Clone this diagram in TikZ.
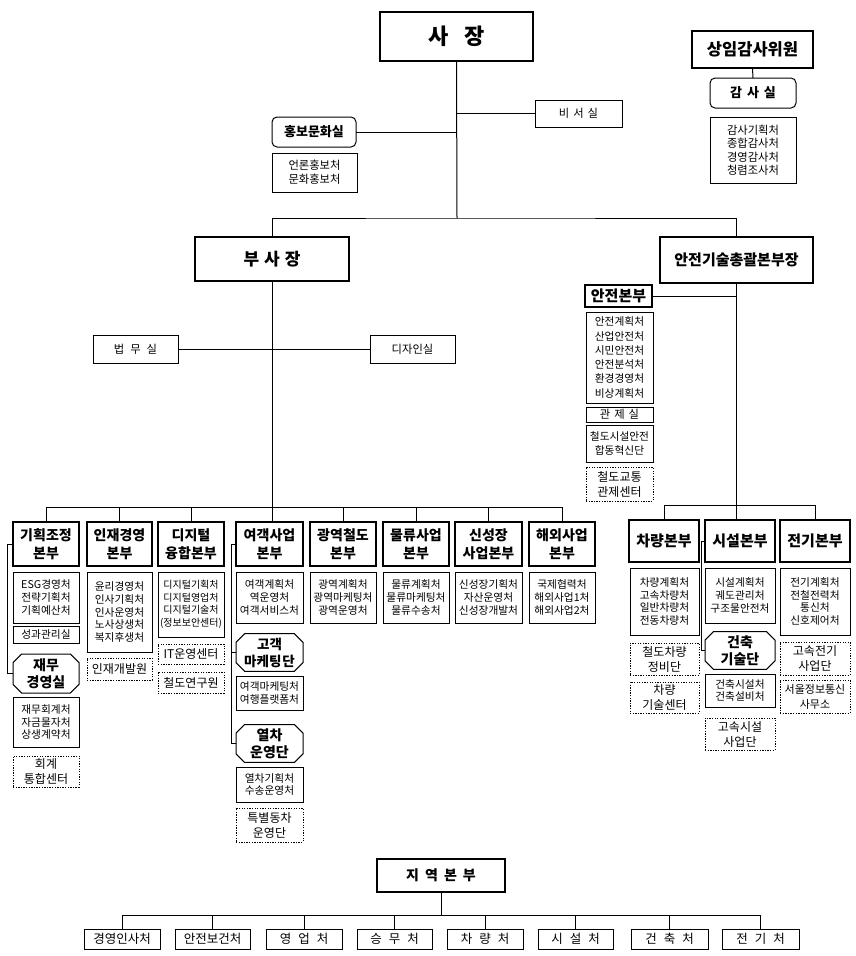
\documentclass[tikz,border=0pt]{standalone}
\usepackage{fontspec}
\setmainfont{Noto Sans CJK KR}
\usetikzlibrary{shapes.misc}
\newcommand\fs[2]{\fontsize{#1pt}{#2pt}\selectfont}
\newcommand\gp[1]{\hspace{#1pt}}
\newcommand\bx[7]{\node[#2, minimum width={(#5-#3)*1pt}, minimum height={(#6-#4)*1pt}] (#1) at ({(#3+#5)/2},{(#4+#6)/2}) {#7};}
\tikzset{
  base/.style={draw=black, inner sep=0.3pt, outer sep=0pt, align=center, text=black},
  topbox/.style={base, line width=2.2pt, font=\bfseries\fs{16}{20}},
  head/.style={base, line width=1.1pt, font=\bfseries\fs{14}{18}},
  lst/.style={base, line width=0.8pt, font=\fs{10.7}{12.6}},
  dsh/.style={base, line width=0.8pt, dash pattern=on 1.3pt off 1.3pt, font=\fs{12}{15}},
  rnd/.style={base, line width=1pt, rounded corners=5pt, font=\bfseries\fs{13}{16}},
  chm/.style={base, chamfered rectangle, chamfered rectangle xsep=5pt, line width=1pt, font=\bfseries\fs{14}{17}},
  single/.style={base, line width=0.8pt, font=\fs{11.3}{14}},
  ln/.style={draw=black, line width=1pt},
}
\begin{document}
\begin{tikzpicture}[x=1pt,y=-1pt]
\fill[white] (0,0) rectangle (855,956);
\useasboundingbox (0,0) rectangle (855,956);

% ---- top level
\bx{sajang}{topbox, font=\bfseries\fs{22}{26}}{380}{12}{533}{61}{사\gp{16}장}
\bx{sangim}{topbox, font=\bfseries\fs{16.5}{20}}{692}{31}{813}{68}{상임감사위원}
\bx{gamsa}{rnd}{710}{78}{796}{108}{감\gp{5}사\gp{5}실}
\bx{gamsal}{single, font=\fs{11.3}{13.5}}{710}{117}{796}{183}{감사기획처\\종합감사처\\경영감사처\\청렴조사처}
\bx{biseo}{single}{535}{100}{622}{127}{비\gp{4}서\gp{4}실}
\bx{hongbo}{rnd}{272}{117}{356}{147}{홍보문화실}
\bx{hongbol}{single, font=\fs{11.3}{14}}{272}{153}{357}{192}{언론홍보처\\문화홍보처}
\bx{busajang}{topbox, font=\bfseries\fs{17}{20}}{195}{237}{349}{281}{부\gp{5}사\gp{5}장}
\bx{anjeongisul}{topbox, font=\bfseries\fs{15}{18}}{660}{237}{813}{283}{안전기술총괄본부장}
\bx{beopmu}{single}{93}{335}{178}{363}{법\gp{6}무\gp{6}실}
\bx{design}{single}{370}{335}{455}{363}{디자인실}

% ---- 부사장 산하 본부
\bx{k1}{head}{13}{522}{79}{566}{기획조정\\본부}
\bx{k2}{head}{87}{522}{152}{566}{인재경영\\본부}
\bx{k3}{head}{158}{522}{224}{566}{디지털\\융합본부}
\bx{k4}{head}{236}{522}{303}{566}{여객사업\\본부}
\bx{k5}{head}{310}{522}{376}{566}{광역철도\\본부}
\bx{k6}{head}{383}{522}{449}{566}{물류사업\\본부}
\bx{k7}{head}{455}{522}{522}{566}{신성장\\사업본부}
\bx{k8}{head}{529}{522}{595}{566}{해외사업\\본부}

\bx{l1}{lst}{13}{572}{79}{623}{ESG경영처\\전략기획처\\기획예산처}
\bx{s1}{lst}{13}{626}{79}{643}{성과관리실}
\bx{jaemu}{chm}{13}{654}{79}{693}{재무\\경영실}
\bx{l1b}{lst}{13}{697}{79}{747}{재무회계처\\자금물자처\\상생계약처}
\bx{d1}{dsh}{13}{756}{79}{787}{회계\\통합센터}

\bx{l2}{lst}{87}{572}{152}{652}{윤리경영처\\인사기획처\\인사운영처\\노사상생처\\복지후생처}
\bx{d2}{dsh}{87}{658}{152}{680}{인재개발원}

\bx{l3}{lst, font=\fs{10}{12.6}}{158}{572}{224}{637}{디지털기획처\\디지털영업처\\디지털기술처\\(정보보안센터)}
\bx{d3a}{dsh}{158}{644}{224}{664}{IT운영센터}
\bx{d3b}{dsh}{158}{672}{224}{693}{철도연구원}

\bx{l4}{lst}{236}{572}{303}{623}{여객계획처\\역운영처\\여객서비스처}
\bx{gogaek}{chm, font=\bfseries\fs{13.5}{17}}{236}{635}{303}{670}{고객\\마케팅\gp{1}단}
\bx{l4b}{lst}{236}{676}{303}{710}{여객마케팅처\\여행플랫폼처}
\bx{yeolcha}{chm}{236}{725}{303}{762}{열차\\운영단}
\bx{l4c}{lst}{236}{767}{303}{802}{열차기획처\\수송운영처}
\bx{d4}{dsh}{236}{808}{303}{842}{특별동차\\운영단}

\bx{l5}{lst}{310}{572}{376}{623}{광역계획처\\광역마케팅처\\광역운영처}
\bx{l6}{lst}{383}{572}{449}{623}{물류계획처\\물류마케팅처\\물류수송처}
\bx{l7}{lst}{455}{572}{522}{623}{신성장기획처\\자산운영처\\신성장개발처}
\bx{l8}{lst}{529}{572}{595}{623}{국제협력처\\해외사업1처\\해외사업2처}

% ---- 안전기술총괄본부장 산하
\bx{anjeon}{head, font=\bfseries\fs{15}{18}}{585}{285}{652}{307}{안전본부}
\bx{al}{lst, font=\fs{10.7}{14.3}}{586}{312}{653}{403}{안전계획처\\산업안전처\\시민안전처\\안전분석처\\환경경영처\\비상계획처}
\bx{gwanje}{lst, font=\fs{11.3}{13}}{586}{407}{653}{422}{관\gp{4}제\gp{4}실}
\bx{hapdong}{lst, font=\fs{10.7}{13.5}}{586}{425}{653}{462}{철도시설안전\\합동혁신단}
\bx{d5}{dsh}{586}{467}{653}{501}{철도교통\\관제센터}

\bx{r1}{head, font=\bfseries\fs{15}{18}}{629}{520}{699}{562}{차량본부}
\bx{r2}{head, font=\bfseries\fs{15}{18}}{705}{520}{775}{562}{시설본부}
\bx{r3}{head, font=\bfseries\fs{15}{18}}{780}{520}{850}{562}{전기본부}
\bx{rl1}{lst}{630}{568}{699}{635}{차량계획처\\고속차량처\\일반차량처\\전동차량처}
\bx{rl2}{lst}{705}{568}{775}{623}{시설계획처\\궤도관리처\\구조물안전처}
\bx{rl3}{lst}{780}{568}{850}{635}{전기계획처\\전철전력처\\통신처\\신호제어처}
\bx{d6}{dsh}{630}{643}{699}{675}{철도차량\\정비단}
\bx{d7}{dsh}{630}{682}{699}{713}{차량\\기술센터}
\bx{geonchuk}{chm}{705}{632}{775}{669}{건축\\기술단}
\bx{rl2b}{lst}{705}{674}{775}{707}{건축시설처\\건축설비처}
\bx{d8}{dsh}{705}{718}{775}{750}{고속시설\\사업단}
\bx{d9}{dsh}{780}{642}{850}{675}{고속전기\\사업단}
\bx{d10}{dsh, font=\fs{11}{15}}{780}{680}{850}{713}{서울정보통신\\사무소}

% ---- 지역본부
\bx{jiyeok}{topbox, line width=2pt, font=\bfseries\fs{14}{17}}{377}{859}{505}{892}{지\gp{6}역\gp{6}본\gp{6}부}
\bx{b1}{single, font=\fs{12.5}{15}}{84}{929}{160}{949}{경영인사처}
\bx{b2}{single, font=\fs{12.5}{15}}{175}{929}{250}{949}{안전보건처}
\bx{b3}{single, font=\fs{12.5}{15}}{266}{929}{342}{949}{영\gp{7}업\gp{7}처}
\bx{b4}{single, font=\fs{12.5}{15}}{357}{929}{432}{949}{승\gp{7}무\gp{7}처}
\bx{b5}{single, font=\fs{12.5}{15}}{447}{929}{523}{949}{차\gp{7}량\gp{7}처}
\bx{b6}{single, font=\fs{12.5}{15}}{538}{929}{613}{949}{시\gp{7}설\gp{7}처}
\bx{b7}{single, font=\fs{12.5}{15}}{631}{929}{708}{949}{건\gp{7}축\gp{7}처}
\bx{b8}{single, font=\fs{12.5}{15}}{722}{929}{799}{949}{전\gp{7}기\gp{7}처}

% ---- connectors
\coordinate (t1) at (457,218);
\coordinate (t2) at (0,507);
\coordinate (t3) at (0,505);
\coordinate (t4) at (0,915);

\draw[ln] (sajang.south) -- (t1);
\draw[ln] (busajang.north) |- (t1) -| (anjeongisul.north);
\draw[ln] (biseo.west) -- (biseo.west -| t1);
\draw[ln] (hongbo.east) -- (hongbo.east -| t1);
\draw[ln] (sangim.south) -- (gamsa.north);

\draw[ln] (busajang.south) -- (busajang.south |- k4.north);
\draw[ln] (beopmu.east) -- (design.west);
\draw[ln] (k1.north) |- (k8.north |- t2) -- (k8.north);
\foreach \n in {k2,k3,k5,k6,k7} \draw[ln] (\n.north) -- (\n.north |- t2);

\draw[ln] (k1.west) -- ++(-6,0) |- (jaemu.west);
\draw[ln] (k4.west) -- ++(-5,0) coordinate (c4) |- (yeolcha.west);
\draw[ln] (c4 |- gogaek.west) -- (gogaek.west);

\draw[ln] (anjeongisul.south) -- (anjeongisul.south |- r2.north);
\draw[ln] (anjeon.east) -- (anjeon.east -| anjeongisul.south);
\draw[ln] (r1.north) |- (r3.north |- t3) -- (r3.north);
\draw[ln] (r2.west) -- ++(-4,0) |- (geonchuk.west);

\draw[ln] (jiyeok.south) -- (jiyeok.south |- t4);
\draw[ln] (b1.north) |- (b8.north |- t4) -- (b8.north);
\foreach \n in {b2,b3,b4,b5,b6,b7} \draw[ln] (\n.north) -- (\n.north |- t4);
\end{tikzpicture}
\end{document}
